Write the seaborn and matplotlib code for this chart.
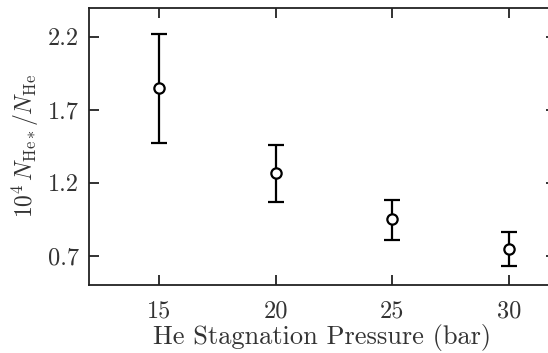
import matplotlib
matplotlib.use("Agg")
import matplotlib.pyplot as plt
import numpy as np
import pandas as pd
import seaborn as sns

# Metastable helium fraction vs. stagnation pressure
pressure = [15, 20, 25, 30]
ratio = [1.85, 1.265, 0.955, 0.75]
ratio_low = [1.47, 1.067, 0.81, 0.63]
ratio_high = [2.22, 1.457, 1.08, 0.86]

x_ticks = [15, 20, 25, 30]
y_ticks = [0.7, 1.2, 1.7, 2.2]

sns.set_theme(style="ticks")
plt.rcParams.update({
    "font.family": ["cmr10", "DejaVu Serif"],
    "mathtext.fontset": "cm",
    "axes.formatter.use_mathtext": True,
    "axes.linewidth": 1.3,
    "axes.edgecolor": "#222222",
    "xtick.direction": "in",
    "ytick.direction": "in",
    "xtick.major.size": 7,
    "ytick.major.size": 7,
    "xtick.major.width": 1.3,
    "ytick.major.width": 1.3,
    "xtick.color": "#222222",
    "ytick.color": "#222222",
    "xtick.top": True,
    "ytick.right": True,
})

df = pd.DataFrame({"p": pressure, "r": ratio,
                   "lo": ratio_low, "hi": ratio_high})

fig = plt.figure(figsize=(5.48, 3.53), dpi=100)
# the right edge of the frame runs just past the figure border
ax = fig.add_axes([0.1624, 0.1926, 0.8516, 0.786])

yerr = np.vstack([df["r"] - df["lo"], df["hi"] - df["r"]])
ax.errorbar(df["p"], df["r"], yerr=yerr, fmt="none", ecolor="black",
            elinewidth=1.6, capsize=6, capthick=1.6, zorder=2)
sns.scatterplot(data=df, x="p", y="r", ax=ax, marker="o", s=55,
                facecolor="white", edgecolor="black", linewidth=1.6,
                zorder=3, legend=False)

ax.set_xlim(12, 32)
ax.set_ylim(0.5, 2.4)
ax.set_xticks(x_ticks)
ax.set_yticks(y_ticks)
ax.set_xticklabels([str(t) for t in x_ticks])
ax.set_yticklabels([f"{t:.1f}" for t in y_ticks])
ax.tick_params(labelsize=17.5, colors="#222222")
ax.tick_params(axis="x", pad=11)
ax.tick_params(axis="y", pad=7)
for lab in ax.get_xticklabels() + ax.get_yticklabels():
    lab.set_color("#333333")

ax.set_xlabel("He Stagnation Pressure (bar)", fontsize=19, color="#333333",
              labelpad=1)
ax.set_ylabel(r"$10^4\,N_{\mathrm{He}*}/N_{\mathrm{He}}$", fontsize=17,
              color="#333333", labelpad=5)

fig.savefig("out.png", dpi=100)
